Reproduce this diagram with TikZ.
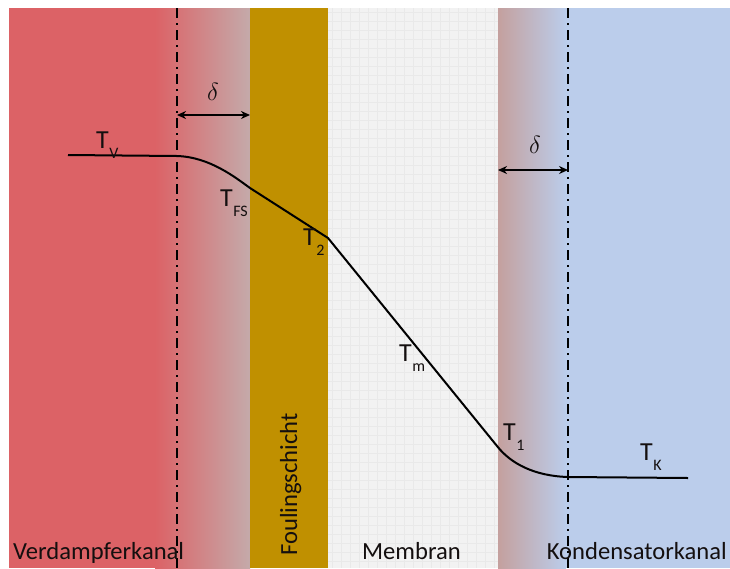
\documentclass[tikz,border=0pt]{standalone}
\usepackage{fontspec}
\setmainfont{Carlito}
\usetikzlibrary{arrows.meta}
\definecolor{redch}{RGB}{220,98,102}
\definecolor{redfade}{RGB}{196,170,170}
\definecolor{fouling}{RGB}{192,144,0}
\definecolor{membr}{RGB}{242,242,242}
\definecolor{membrline}{RGB}{233,233,233}
\definecolor{brfade}{RGB}{196,160,158}
\definecolor{bluech}{RGB}{187,205,235}
\definecolor{txt}{RGB}{20,15,15}
\newcommand\Tlab[1]{T\kern0.5pt\raisebox{-0.4em}{\fontsize{16}{16}\selectfont #1}}
\tikzset{
  tlabel/.style={inner sep=0pt, anchor=base west, text=txt, font=\fontsize{26}{26}\selectfont},
  blabel/.style={inner sep=0pt, anchor=base west, text=txt, font=\fontsize{24.6}{24.6}\selectfont},
  dlabel/.style={inner sep=0pt, text=txt, font=\fontsize{27}{27}\selectfont},
  bline/.style={draw=black, line width=2.5pt, dash pattern=on 10pt off 5pt on 2pt off 5pt},
  curve/.style={draw=black, line width=2pt, line join=round},
  dimarrow/.style={draw=black, line width=1.6pt, {Stealth[length=9pt,width=8pt]}-{Stealth[length=9pt,width=8pt]}}
}
\begin{document}
\begin{tikzpicture}[x=1pt,y=-1pt]
\useasboundingbox (0,0) rectangle (730,568);
\fill[white] (0,0) rectangle (730,568);
% regions
\fill[redch] (9,8) rectangle (156,568);
\shade[left color=redch, right color=redfade] (155,8) rectangle (250,568);
\fill[fouling] (250,8) rectangle (328,568);
\fill[membr] (328,8) rectangle (498,568);
\foreach \gx in {332,341,...,495} \draw[membrline, line width=0.5pt] (\gx,8) -- (\gx,568);
\foreach \gy in {12,21,...,566} \draw[membrline, line width=0.5pt] (328,\gy) -- (498,\gy);
\shade[left color=brfade, right color=bluech] (498,8) rectangle (566,568);
\fill[bluech] (565,8) rectangle (730,568);
% boundary layer lines
\coordinate (l1t) at (177,8); \coordinate (l1b) at (177,568);
\coordinate (l2t) at (568,8); \coordinate (l2b) at (568,568);
\draw[bline] (l1t) -- (l1b);
\draw[bline] (l2t) -- (l2b);
% dimension arrows
\coordinate (da1) at (177,115); \coordinate (db1) at (250,115);
\coordinate (da2) at (498,170); \coordinate (db2) at (568,170);
\draw[dimarrow] (da1) -- (db1);
\draw[dimarrow] (da2) -- (db2);
\node[dlabel] (delta1) at (213,92) {$\delta$};
\node[dlabel] (delta2) at (535,145) {$\delta$};
% temperature curve
\coordinate (tv0) at (68,155);
\coordinate (pd1) at (177,156);
\coordinate (pfs) at (250,188);
\coordinate (p2) at (328,238);
\coordinate (p1) at (497,446);
\coordinate (pd2) at (568,477);
\coordinate (tk1) at (688,478);
\draw[curve] (tv0) -- (pd1) .. controls (210,157) and (236,178) .. (pfs) -- (p2) -- (p1)
  .. controls (511,464) and (535,476) .. (pd2) -- (tk1);
% labels
\node[tlabel] (tv) at (96,148) {\Tlab{V}};
\node[tlabel] (tfs) at (220,206) {\Tlab{FS}};
\node[tlabel] (t2) at (303,245) {\Tlab{2}};
\node[tlabel] (tm) at (399,361) {\Tlab{m}};
\node[tlabel] (t1) at (503,440) {\Tlab{1}};
\node[tlabel] (tk) at (640,460) {\Tlab{K}};
% bottom labels
\node[blabel] (verd) at (13,559) {Verdampferkanal};
\node[blabel] (mem) at (362,559) {Membran};
\node[blabel, anchor=base east] (kond) at (727,559) {Kondensatorkanal};
\node[blabel, rotate=90] (foul) at (297,556) {Foulingschicht};
\end{tikzpicture}
\end{document}
